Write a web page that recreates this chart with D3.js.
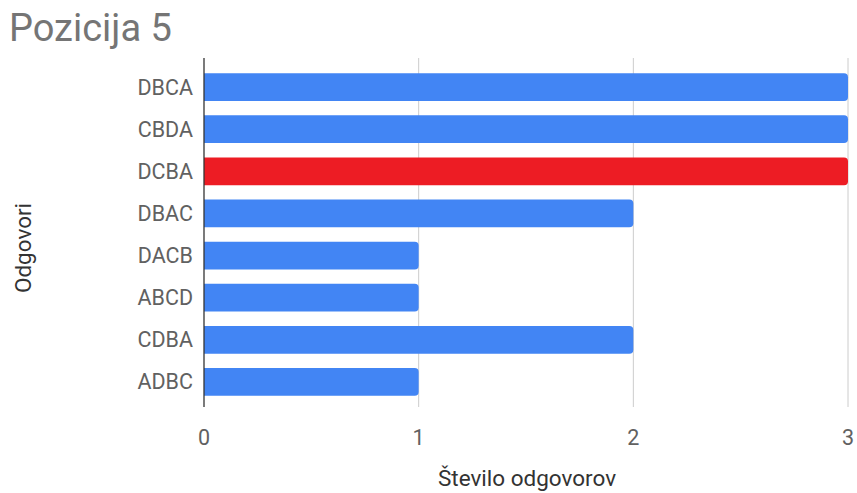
<!DOCTYPE html>
<html>
<head>
<meta charset="utf-8">
<script src="https://cdn.jsdelivr.net/npm/d3@7"></script>
<style>
  body { margin: 0; background: #fff; }
  text { font-family: Roboto, "Noto Sans", sans-serif; }
</style>
</head>
<body>
<svg id="chart" width="857" height="493"></svg>
<script>
// data
var answers = ["DBCA", "CBDA", "DCBA", "DBAC", "DACB", "ABCD", "CDBA", "ADBC"];
var counts = [3, 3, 3, 2, 1, 1, 2, 1];
var correct = "DCBA";
var xTicks = [0, 1, 2, 3];

var svg = d3.select("#chart");
var plotLeft = 204, plotRight = 848, plotTop = 58, plotBottom = 407;

var x = d3.scaleLinear().domain([0, 3]).range([plotLeft, plotRight]);
var y = d3.scaleBand().domain(answers).range([66, 403]).paddingInner(0.34).paddingOuter(0.17);

// title
svg.append("text")
  .attr("x", 9).attr("y", 41)
  .attr("fill", "#757575")
  .attr("font-size", "38px")
  .text("Pozicija 5");

// gridlines
svg.selectAll("line.grid")
  .data(xTicks.slice(1))
  .enter().append("line")
    .attr("x1", function(d){ return x(d) })
    .attr("x2", function(d){ return x(d) })
    .attr("y1", plotTop).attr("y2", plotBottom)
    .attr("stroke", "#cccccc")
    .attr("stroke-width", 1);

// bars, rounded on the right end only
function barPath(d, i){
  var x0 = x(0), x1 = x(d), y0 = y(answers[i]), h = y.bandwidth(), r = 4;
  return "M" + x0 + "," + y0 +
    "H" + (x1 - r) +
    "Q" + x1 + "," + y0 + " " + x1 + "," + (y0 + r) +
    "V" + (y0 + h - r) +
    "Q" + x1 + "," + (y0 + h) + " " + (x1 - r) + "," + (y0 + h) +
    "H" + x0 + "Z";
}

svg.selectAll("path.bar")
  .data(counts)
  .enter().append("path")
    .attr("class", "bar")
    .attr("d", barPath)
    .attr("fill", function(d, i){
      return answers[i] == correct ? "#ed1c24" : "#4285f4"
    });

// baseline
svg.append("line")
  .attr("x1", x(0)).attr("x2", x(0))
  .attr("y1", plotTop).attr("y2", plotBottom)
  .attr("stroke", "#333333")
  .attr("stroke-width", 1.3);

// category labels
svg.selectAll("text.cat")
  .data(answers)
  .enter().append("text")
    .attr("x", 193)
    .attr("y", function(d){ return y(d) + y.bandwidth()/2 })
    .attr("dy", "0.35em")
    .attr("text-anchor", "end")
    .attr("fill", "#616161")
    .attr("font-size", "21.5px")
    .text(function(d){ return d });

// x tick labels
svg.selectAll("text.tick")
  .data(xTicks)
  .enter().append("text")
    .attr("x", function(d){ return x(d) })
    .attr("y", 445)
    .attr("text-anchor", "middle")
    .attr("fill", "#616161")
    .attr("font-size", "21.5px")
    .text(function(d){ return d });

// axis titles
svg.append("text")
  .attr("x", 527).attr("y", 486)
  .attr("text-anchor", "middle")
  .attr("fill", "#333333")
  .attr("font-size", "22.5px")
  .text("Število odgovorov");

svg.append("text")
  .attr("transform", "translate(31,248) rotate(-90)")
  .attr("text-anchor", "middle")
  .attr("fill", "#333333")
  .attr("font-size", "22.5px")
  .text("Odgovori");
</script>
</body>
</html>
